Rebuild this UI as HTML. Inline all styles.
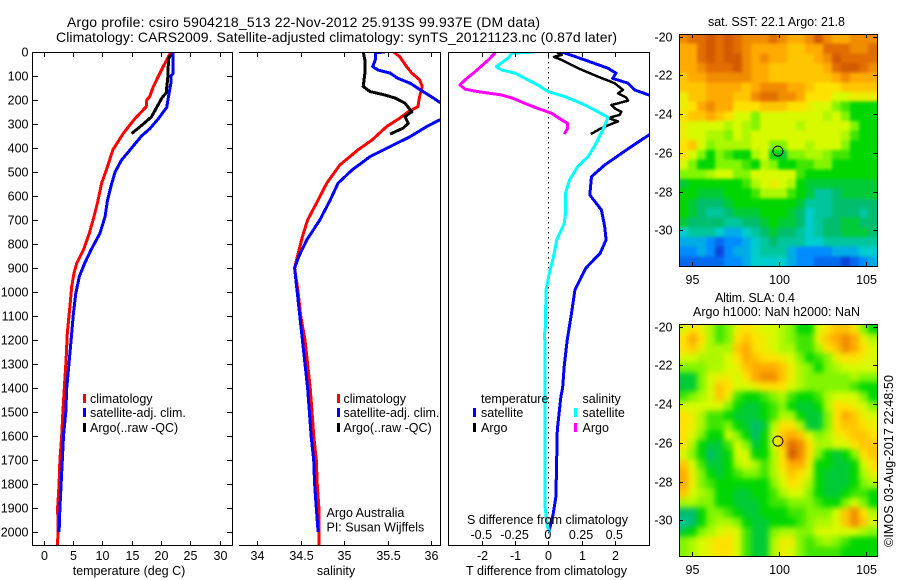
<!DOCTYPE html>
<html lang="en">
<head>
<meta charset="utf-8">
<title>Argo profile chart</title>
<style>
html,body{margin:0;padding:0;background:#fff;}
svg{display:block;}
text{font-family:"Liberation Sans",Arial,sans-serif;font-size:12.5px;fill:#000;}
</style>
</head>
<body>
<svg id="chart" xmlns="http://www.w3.org/2000/svg" width="900" height="580" viewBox="0 0 900 580">
<defs>
<clipPath id="clip-temp"><rect x="33" y="52" width="199" height="493"/></clipPath>
<clipPath id="clip-sal"><rect x="239" y="52" width="201" height="493"/></clipPath>
<clipPath id="clip-diff"><rect x="448" y="52" width="201" height="493"/></clipPath>
<filter id="blur-sst" filterUnits="userSpaceOnUse" x="679" y="34" width="199" height="233" color-interpolation-filters="sRGB">
<feGaussianBlur stdDeviation="1.6"/>
<feComponentTransfer><feFuncA type="linear" slope="0" intercept="1"/></feComponentTransfer>
</filter>
<filter id="blur-sla" filterUnits="userSpaceOnUse" x="679" y="324" width="199" height="233" color-interpolation-filters="sRGB">
<feGaussianBlur stdDeviation="3"/>
<feComponentTransfer><feFuncA type="linear" slope="0" intercept="1"/></feComponentTransfer>
</filter>
</defs>
<g id="maps"></g>
<g id="lines"></g>
<g id="axes"></g>

<text x="67" y="27" style="font-size:14px" textLength="473">Argo profile: csiro 5904218_513 22-Nov-2012 25.913S 99.937E (DM data)</text>
<text x="56" y="42" style="font-size:14px" textLength="561">Climatology: CARS2009. Satellite-adjusted climatology: synTS_20121123.nc (0.87d later)</text>

<text x="129" y="575" text-anchor="middle">temperature (deg C)</text>
<text x="336" y="575" text-anchor="middle">salinity</text>
<text x="466" y="575" textLength="161">T difference from climatology</text>
<text x="467" y="524" textLength="161">S difference from climatology</text>

<g>
<rect x="83" y="394" width="3" height="9" fill="#f00"/>
<text x="90" y="403">climatology</text>
<rect x="83" y="408" width="3" height="9" fill="#00f"/>
<text x="90" y="417">satellite-adj. clim.</text>
<rect x="83" y="423" width="3" height="9" fill="#000"/>
<text x="90" y="432">Argo(..raw -QC)</text>
</g>
<g>
<rect x="337" y="394" width="3" height="9" fill="#f00"/>
<text x="343.5" y="403">climatology</text>
<rect x="337" y="408" width="3" height="9" fill="#00f"/>
<text x="343.5" y="417">satellite-adj. clim.</text>
<rect x="337" y="423" width="3" height="9" fill="#000"/>
<text x="343.5" y="432">Argo(..raw -QC)</text>
</g>
<g>
<text x="481" y="403">temperature</text>
<rect x="473" y="408" width="3" height="9" fill="#00f"/>
<text x="481" y="417">satellite</text>
<rect x="473" y="423" width="3" height="9" fill="#000"/>
<text x="481" y="432">Argo</text>
<text x="582.5" y="403">salinity</text>
<rect x="574" y="408" width="3" height="9" fill="#0ff"/>
<text x="582.5" y="417">satellite</text>
<rect x="574" y="423" width="3" height="9" fill="#f0f"/>
<text x="582.5" y="432">Argo</text>
</g>
<text x="326.5" y="517">Argo Australia</text>
<text x="326.5" y="531.5">PI: Susan Wijffels</text>

<text x="708" y="26" textLength="137">sat. SST: 22.1  Argo: 21.8</text>
<text x="715" y="302" textLength="80">Altim. SLA: 0.4</text>
<text x="693" y="316" textLength="167">Argo h1000: NaN h2000: NaN</text>
<text transform="translate(893,547) rotate(-90)" textLength="172">©IMOS 03-Aug-2017 22:48:50</text>

<script>
// ---------- Temperature panel data ----------
var tempClimDepth = [0,61,144,186,200,228,283,339,408,478,547,617,686,756,825,881,922,978,1061,1172,1283,1401,1500,1600,1700,1800,1900,2000,2054];
var tempClimValue = [21.7,20.4,18.7,18.1,17.6,17.5,15.4,13.6,11.8,10.9,9.9,9.3,8.6,7.8,6.8,5.65,5.2,4.8,4.5,4.05,3.85,3.55,3.3,3.1,2.8,2.65,2.4,2.5,2.35];
var tempSatDepth = [0,90,100,130,200,230,280,320,350,400,450,500,550,617,686,756,825,881,936,1006,1089,1172,1283,1401,1500,1600,1700,1800,1900,2000];
var tempSatValue = [22.1,22.1,21.7,21.7,21.2,21,19.5,18.1,16.7,15,13.3,12.2,11.6,10.9,10.5,9.6,8.1,7,6.1,5.5,5.1,4.8,4.4,3.95,3.8,3.4,3.2,3.0,2.8,2.65];
var tempArgoDepth = [10,30,100,170,190,230,270,300,340];
var tempArgoValue = [21.7,21.3,21.2,20.9,20.2,19.3,18.4,17,15];

// ---------- Salinity panel data ----------
var salClimDepth = [0,19,61,88,116,144,186,228,249,276,311,367,408,471,547,617,700,770,900,1000,1100,1200,1300,1400,1500,1600,1700,1800,1900,2000,2054];
var salClimValue = [35.57,35.64,35.72,35.78,35.87,35.9,35.87,35.85,35.74,35.64,35.49,35.32,35.16,34.95,34.8,34.7,34.58,34.52,34.43,34.47,34.5,34.55,34.58,34.61,34.63,34.65,34.68,34.69,34.71,34.71,34.71];
var salSatDepth = [0,3,33,61,75,88,110,130,165,192,209,245,283,311,353,394,436,492,547,617,700,783,850,900,1000,1100,1200,1300,1400,1500,1600,1700,1800,1900,2000];
var salSatValue = [35.47,35.36,35.36,35.33,35.39,35.53,35.62,35.76,35.91,36.03,36.1,36.4,36.1,35.95,35.76,35.53,35.3,35.09,34.93,34.84,34.72,34.57,34.48,34.43,34.46,34.49,34.52,34.55,34.58,34.6,34.62,34.65,34.66,34.68,34.7];
var salArgoDepth = [0,33,88,144,165,179,192,213,249,269,297,317,342];
var salArgoValue = [35.22,35.24,35.24,35.22,35.3,35.47,35.59,35.7,35.78,35.7,35.74,35.68,35.53];

// ---------- Difference panel data ----------
var dTSatDepth = [0,33,68,88,110,130,158,179,260,346,394,471,519,596,658,728,783,839,867,901,936,992,1089,1200,1311,1401,1436,1575,1714,1853,1922,1992];
var dTSatValue = [0.4,1.1,1.8,2.04,1.94,2.4,2.6,3.03,3.9,3.03,2.5,1.7,1.3,1.25,1.6,1.7,1.74,1.56,1.36,1.13,1.0,0.8,0.7,0.57,0.48,0.43,0.38,0.27,0.25,0.23,0.15,0.03];
var dTArgoDepth = [0,12,20,33,68,103,130,158,172,190,203,221,235,249,262,275,289,303,317,342];
var dTArgoValue = [0.25,0.4,0.17,0.4,0.9,1.5,2,2.25,2.1,2.35,2.4,1.9,2.0,2.2,2.15,1.8,2.1,1.85,1.6,1.28];
var dSSatDepth = [0,5,24,61,75,88,110,137,165,186,214,242,272,325,380,436,478,533,588,665,714,783,825,867,922,992,1144,1172,1394,1900,1978,2000];
var dSSatValue = [-0.1,-0.275,-0.3,-0.39,-0.35,-0.25,-0.175,-0.08,0,0.125,0.25,0.35,0.45,0.41,0.36,0.3,0.22,0.16,0.13,0.13,0.12,0.063,0.05,0.033,0.008,-0.017,-0.022,-0.027,-0.023,-0.023,-0.007,0.01];
var dSArgoDepth = [0,33,82,116,137,155,165,179,193,214,235,255,283,297,318,342];
var dSArgoValue = [-0.395,-0.45,-0.55,-0.625,-0.665,-0.625,-0.53,-0.35,-0.265,-0.175,-0.08,0.025,0.1,0.145,0.145,0.12];

// ---------- Tick labels ----------
var depthTicks = [0,100,200,300,400,500,600,700,800,900,1000,1100,1200,1300,1400,1500,1600,1700,1800,1900,2000];
var tempTicks = [0,5,10,15,20,25,30];
var salTicks = [34,34.5,35,35.5,36];
var dTTicks = [-2,-1,0,1,2];
var dSTicks = [-0.5,-0.25,0,0.25,0.5];
var dSTickLabels = ["-0.5","-0.25","0","0.25","0.5"];
var latTicks = [-20,-22,-24,-26,-28,-30];
var lonTicks = [95,100,105];

// ---------- Map data (estimated colour-scale values, north to south) ----------
var sstGrid = [
[8.5,9,9,9.5,9,9.5,9,8.5,8.5,8.5,9,8.5,8,8,8.5,9.5,8.5,8,8,8.5,8.5,8.5],
[8,8,9,9.5,9,9.5,9,8.5,8,8,8,8,7.5,7.5,8,8,9,9,9,8.5,8.5,9],
[8,8,9,9.5,9,9.5,9.5,8.5,8,8.5,8,8,7.5,7.5,7.5,8,8.5,9.5,9,9,9,9],
[8,8,8.5,9,9,9,9.5,8.5,8,8,7.5,7.5,7.5,7.5,7.5,7.5,8,9,9.5,9.5,9,8.5],
[7.5,8,8,8.5,8.5,8.5,8.5,8.5,8,8,7.5,7.5,7.5,7.5,7.5,7.5,7.5,8,8.5,8,8,8],
[7.5,7.5,7.5,8,8,8,8,7.5,8,8.5,8.5,8.5,8,8,7.5,7,7,7,7.5,7.5,7.5,7.5],
[6.5,7.5,7.5,8,8,8,7.5,7.5,8.5,9,9,8.5,8.5,8,7,7,7,6,6,6.5,6.5,6.5],
[6.5,7,8,8.5,8,8,7,7,7,7.5,7.5,7.5,7,7,6.5,6,6,5,4.5,4,4,4],
[7,7.5,7.5,8,7.5,7,6,6,5,6,6,6,6,6,6,6,5.5,6,5,4,4,4],
[6.5,6,6,6,6,5.5,6,5.5,5,6,6,6,6,5.5,6,6,6,6,6,5,4,4],
[6.5,6,6,5.5,5.5,5,6,5.5,6,6,6,6,6,6,6,6,6,6,5.5,4.5,4,4],
[7,7.5,6,5,5.5,5.5,5.5,5.5,6,6,5,5,6,6,5.5,6,6,6,5,4,4,4],
[7,6,5,4,5,4.5,4,4,5.5,6,4,3.5,5,5,5.5,5.5,5,4.5,4.5,4,4,4],
[6,5,4,4,5,5,5,4.5,4,5.5,5,4,4,4.5,4.5,5,5,4,4,4,4,4],
[5,5,5,5.5,6,6,5,5,6,6,6,6,6,4.5,4,4,4,4,4,4,4,4],
[3.5,4,4,4,4,4,4,4.5,5.5,6,6.5,6,5.5,4,3.5,3.5,3.5,3.5,3.5,3.5,3.5,3.5],
[4,4,3.5,3.5,3.5,4,4,4,4.5,5.5,5.5,5.5,4.5,4,3.5,2.5,2.5,3,3.5,3.5,3.5,3.5],
[4,3.5,3,3,3,3.5,4,4,4,4,4,4,4,3.5,2.5,2.5,2.5,3,3,3,3,3],
[4,3.5,3,2.5,2.5,3,3.5,3.5,3.5,4,4,4,3.5,3,2,2.5,2.5,3,3,3,2.5,3],
[3.5,3,3,3,3,2.5,2.5,3,3,3.5,4,3.5,3.5,3,2,2.5,3,3,3.5,3.5,3,3],
[2,2.5,2.5,2.5,2,1.5,1.5,2,2.5,3,3.5,3,3,2.5,2,2.5,3,3,3.5,3.5,3.5,3],
[1.5,1.5,1.5,1,0.5,1,1,1.5,2,2.5,3,2.5,2.5,2.5,2,2,2.5,2.5,2.5,2.5,2.5,2.5],
[1,1,1.5,1,0,1,1.5,1.5,2,2.5,2.5,2.5,1.5,1,1,1,1,1.5,1.5,1.5,2,2],
[0.5,0.5,0.5,0.5,0.5,1,1,1.5,2,2,2,2,1.5,1,1,0.5,0.5,0.5,0,0.5,1,1.5]
];
var slaGrid = [
[6,7,6.5,5.5,4.5,5,6.5,7,6.5,6,6,5.5,5,4,4,6,7,7.5,7.5,7,5,4],
[7,8,7,5.5,4.5,5,7,7.5,7,6.5,6,5.5,5,4.5,4.5,6.5,7.5,8,8.5,8,6.5,5.5],
[7,7.5,6.5,5.5,5.5,5.5,7.5,8,7,6.5,6,5.5,5.5,4.5,4.5,5.5,7,7.5,8.5,8,7,6],
[6,6,5.5,5.5,5.5,6,7,8,7.5,7,7,6.5,6,5,4,4.5,5,6.5,7,7,6.5,6],
[5,5,5,5.5,5.5,6,6.5,7.5,8,8,8,7.5,6.5,5.5,5,4,5,5.5,6,6,6,6],
[3.5,3.5,5,6,6.5,6.5,6,7,8,8.5,8.5,7.5,6.5,5.5,5,5,5,5,5,5.5,5,5],
[3.5,3.5,5,6,7.5,7,6,6,6.5,7,7,7,6,5.5,5,5,5,5,5,4.5,4,4],
[4.5,5,5.5,6,7.5,6.5,4.5,4,4,4.5,5,5.5,4.5,4,4,4.5,5.5,6,6,6,5,4],
[6,6,6,6,6,5,4,3.5,3.5,4,4.5,5,4,3.5,3.5,4,5.5,7,7,6.5,6,5],
[7,6.5,5.5,4.5,4.5,4,3.5,3.5,3.5,4,4.5,5.5,5.5,4,3.5,3.5,5,7,8,7.5,6.5,6],
[7,6.5,5.5,4.5,4.5,5,4,3.5,3,3.5,5.5,7,7,5.5,3.5,3.5,5,7,7.5,7.5,7,6.5],
[7,6,5,4,4,6,5,4,3,4,6,7.5,8,7.5,6,5,5.5,6.5,7,7.5,7.5,7],
[7,5.5,4,3.5,3.5,4.5,6,5,3.5,4,6,7.5,9,8.5,7,5.5,5.5,6,6,7,7.5,7.5],
[6,5,4,3,3.5,4,6,6,4,4,5.5,7,9.5,8.5,7,5,4,3.5,4,5,7,7.5],
[7.5,6,4.5,3.5,3.5,4,5.5,6,5.5,4.5,5.5,7,8,8,6.5,4,4,3.5,3.5,4,6,7],
[8,6.5,5,4,3.5,4,4.5,5,5,4.5,5.5,6.5,7.5,7,6,4,3.5,3.5,3.5,4,5.5,6.5],
[8,6.5,5,4.5,4,4,4,4,4,4,5,6,7,6.5,5.5,4,3.5,3.5,3.5,4,5,5.5],
[7.5,6,5.5,5,4,4,3.5,3.5,4,4,4.5,5.5,6,6,5,4,3.5,3.5,4,4.5,4.5,4],
[5.5,5.5,5,5,4,4,3.5,3.5,3.5,4,4.5,4.5,5,5,5,4.5,4,4,5,6,5,4],
[3,3,4,5,5,4.5,4,3.5,3.5,4,4,4,4.5,4.5,5,5,5,6,7.5,8.5,7,5.5],
[2.5,3,4,5,5.5,5.5,5,4,3.5,3.5,4,4,4,4.5,5,5.5,5.5,6,7.5,8.5,7.5,6],
[3.5,4,5,5.5,6,6.5,6,4.5,3.5,3.5,5,5.5,5.5,5,5,6,6,6,6,6,5.5,5],
[5,5.5,6,6.5,7,7,6,4.5,3.5,3.5,5.5,6.5,6.5,5,4.5,5,5.5,5,4.5,4,4,4],
[5,5.5,6,6.5,7,7,6,4.5,3.5,3.5,5.5,6.5,6,5,4.5,4.5,4.5,4.5,4,4,4,4]
];
var floatLon = 99.937;
var floatLat = -25.913;

// ---------- Axis functions ----------
var SVGNS = "http://www.w3.org/2000/svg";
function yDepth(d){ return 52 + d * 0.24; }
function xTemp(t){ return 43.5 + t * 5.87; }
function xSal(s){ return 257.3 + (s - 34) * 86.8; }
function xDT(t){ return 548.3 + t * 33.2; }
function xDS(s){ return 548.3 + s * 133; }
function xLon(lon){ return 779 + (lon - 100) * 17.37; }
function yLat(lat, y20){ return y20 + (-20 - lat) * 19.35; }

function make(parent, tag, attrs, name, text){
  var el = document.createElementNS(SVGNS, tag);
  for (var k in attrs) { el.setAttribute(k, attrs[k]); }
  
  
  if (text !== undefined) { el.textContent = text; }
  parent.appendChild(el);
  return el;
}

var linesG = document.getElementById('lines');
var axesG = document.getElementById('axes');
var mapsG = document.getElementById('maps');

function drawProfile(name, xf, depths, values, color, width, clip){
  var pts = [];
  for (var i = 0; i < depths.length; i++) {
    pts.push(xf(values[i]).toFixed(1) + ',' + yDepth(depths[i]).toFixed(1));
  }
  make(linesG, 'polyline', {
    points: pts.join(' '), fill: 'none', stroke: color, 'stroke-width': width,
    'stroke-linejoin': 'round', 'clip-path': 'url(#' + clip + ')', 'shape-rendering': 'crispEdges'
  }, name);
}

function hline(parent, x1, x2, y, name){
  make(parent, 'line', {x1:x1, x2:x2, y1:y+0.5, y2:y+0.5, stroke:'#000', 'stroke-width':1, 'shape-rendering':'crispEdges'}, name);
}
function vline(parent, x, y1, y2, name){
  make(parent, 'line', {x1:x+0.5, x2:x+0.5, y1:y1, y2:y2, stroke:'#000', 'stroke-width':1, 'shape-rendering':'crispEdges'}, name);
}

// ---------- Profile lines ----------
drawProfile('temperature-climatology-line', xTemp, tempClimDepth, tempClimValue, '#f00', 3, 'clip-temp');
drawProfile('temperature-satellite-line', xTemp, tempSatDepth, tempSatValue, '#00f', 3, 'clip-temp');
drawProfile('temperature-argo-line', xTemp, tempArgoDepth, tempArgoValue, '#000', 3, 'clip-temp');
drawProfile('salinity-climatology-line', xSal, salClimDepth, salClimValue, '#f00', 3, 'clip-sal');
drawProfile('salinity-satellite-line', xSal, salSatDepth, salSatValue, '#00f', 3, 'clip-sal');
drawProfile('salinity-argo-line', xSal, salArgoDepth, salArgoValue, '#000', 3, 'clip-sal');
make(linesG, 'line', {x1:xDT(0), x2:xDT(0), y1:52, y2:545, stroke:'#000', 'stroke-width':1, 'stroke-dasharray':'1.5 3.5', 'shape-rendering':'crispEdges'}, 'zero-difference-line');
drawProfile('t-difference-satellite-line', xDT, dTSatDepth, dTSatValue, '#00f', 3, 'clip-diff');
drawProfile('t-difference-argo-line', xDT, dTArgoDepth, dTArgoValue, '#000', 2.5, 'clip-diff');
drawProfile('s-difference-satellite-line', xDS, dSSatDepth, dSSatValue, '#0ff', 3, 'clip-diff');
drawProfile('s-difference-argo-line', xDS, dSArgoDepth, dSArgoValue, '#f0f', 3, 'clip-diff');

// ---------- Panel frames and ticks ----------
// temperature panel
hline(axesG, 33, 233, 52, 'temperature-top-axis');
hline(axesG, 33, 233, 545, 'temperature-bottom-axis');
vline(axesG, 32, 52, 546, 'temperature-left-axis');
vline(axesG, 232, 52, 546, 'temperature-right-axis');
depthTicks.forEach(function(d){
  var y = Math.round(yDepth(d));
  hline(axesG, 33, 38, y, 'depth-tick');
  hline(axesG, 227, 232, y, 'depth-tick');
  make(axesG, 'text', {x:28.5, y:y+4.5, 'text-anchor':'end'}, 'depth-tick-label', String(d));
});
tempTicks.forEach(function(t){
  var x = Math.round(xTemp(t));
  vline(axesG, x, 52, 57, 'temperature-tick');
  vline(axesG, x, 541, 545, 'temperature-tick');
  make(axesG, 'text', {x:x+0.5, y:560, 'text-anchor':'middle'}, 'temperature-tick-label', String(t));
});
// salinity panel
hline(axesG, 239, 441, 52, 'salinity-top-axis');
hline(axesG, 239, 441, 545, 'salinity-bottom-axis');
vline(axesG, 440, 52, 546, 'salinity-right-axis');
salTicks.forEach(function(s){
  var x = Math.round(xSal(s));
  vline(axesG, x, 52, 57, 'salinity-tick');
  vline(axesG, x, 541, 545, 'salinity-tick');
  make(axesG, 'text', {x:x+0.5, y:560, 'text-anchor':'middle'}, 'salinity-tick-label', String(s));
});
// difference panel
hline(axesG, 448, 650, 52, 'difference-top-axis');
hline(axesG, 448, 650, 545, 'difference-bottom-axis');
vline(axesG, 448, 52, 546, 'difference-left-axis');
vline(axesG, 649, 52, 546, 'difference-right-axis');
dTTicks.forEach(function(t){
  var x = Math.round(xDT(t));
  vline(axesG, x, 52, 57, 't-difference-tick');
  vline(axesG, x, 541, 545, 't-difference-tick');
  make(axesG, 'text', {x:x+0.5, y:560, 'text-anchor':'middle'}, 't-difference-tick-label', String(t));
});
dSTicks.forEach(function(s, i){
  make(axesG, 'text', {x:xDS(s)-0.5, y:539, 'text-anchor':'middle'}, 's-difference-tick-label', dSTickLabels[i]);
});

// ---------- Maps ----------
var colorStops = [
  [0,[10,70,220]],[1,[0,140,255]],[2,[0,205,205]],[3,[0,190,110]],[4,[0,215,0]],
  [5,[130,245,0]],[6,[215,250,0]],[7,[255,225,0]],[8,[255,170,0]],[9,[225,110,0]],[10,[195,70,0]]
];
function mapColor(v){
  var i = Math.max(0, Math.min(9, Math.floor(v)));
  var f = v - i;
  var a = colorStops[i][1], b = colorStops[i+1][1];
  return 'rgb(' + Math.round(a[0]+(b[0]-a[0])*f) + ',' + Math.round(a[1]+(b[1]-a[1])*f) + ',' + Math.round(a[2]+(b[2]-a[2])*f) + ')';
}
function drawMap(prefix, grid, top, bottom, y20){
  var left = 679, right = 877;
  var g = make(mapsG, 'g', {}, prefix + '-map');
  var cellsG = make(g, 'g', {filter:'url(#blur-' + prefix + ')'}, prefix + '-cells');
  var nr = grid.length, nc = grid[0].length;
  var cw = (right-left)/nc, ch = (bottom-top)/nr;
  for (var r = 0; r < nr; r++) {
    for (var c = 0; c < nc; c++) {
      make(cellsG, 'rect', {
        x:(left+c*cw).toFixed(2), y:(top+r*ch).toFixed(2),
        width:(cw+0.5).toFixed(2), height:(ch+0.5).toFixed(2),
        fill:mapColor(grid[r][c]), 'shape-rendering':'crispEdges'
      }, prefix + '-cell');
    }
  }
  hline(g, left, right+1, top, prefix + '-top-axis');
  hline(g, left, right+1, bottom, prefix + '-bottom-axis');
  vline(g, left, top, bottom+1, prefix + '-left-axis');
  vline(g, right, top, bottom+1, prefix + '-right-axis');
  latTicks.forEach(function(lat){
    var y = Math.round(yLat(lat, y20));
    hline(g, left, left+4, y, prefix + '-lat-tick');
    hline(g, right-4, right, y, prefix + '-lat-tick');
    make(g, 'text', {x:672.5, y:y+4.5, 'text-anchor':'end'}, prefix + '-lat-tick-label', String(lat));
  });
  lonTicks.forEach(function(lon){
    var x = Math.round(xLon(lon));
    vline(g, x, top, top+4, prefix + '-lon-tick');
    vline(g, x, bottom-4, bottom, prefix + '-lon-tick');
    make(g, 'text', {x:x+0.5, y:bottom+18, 'text-anchor':'middle'}, prefix + '-lon-tick-label', String(lon));
  });
  make(g, 'circle', {cx:xLon(floatLon), cy:yLat(floatLat, y20), r:5, fill:'none', stroke:'#000', 'stroke-width':1}, prefix + '-float-marker');
}
drawMap('sst', sstGrid, 34, 266, 36.7);
drawMap('sla', slaGrid, 324, 556, 326.7);
</script>
</svg>
</body>
</html>
